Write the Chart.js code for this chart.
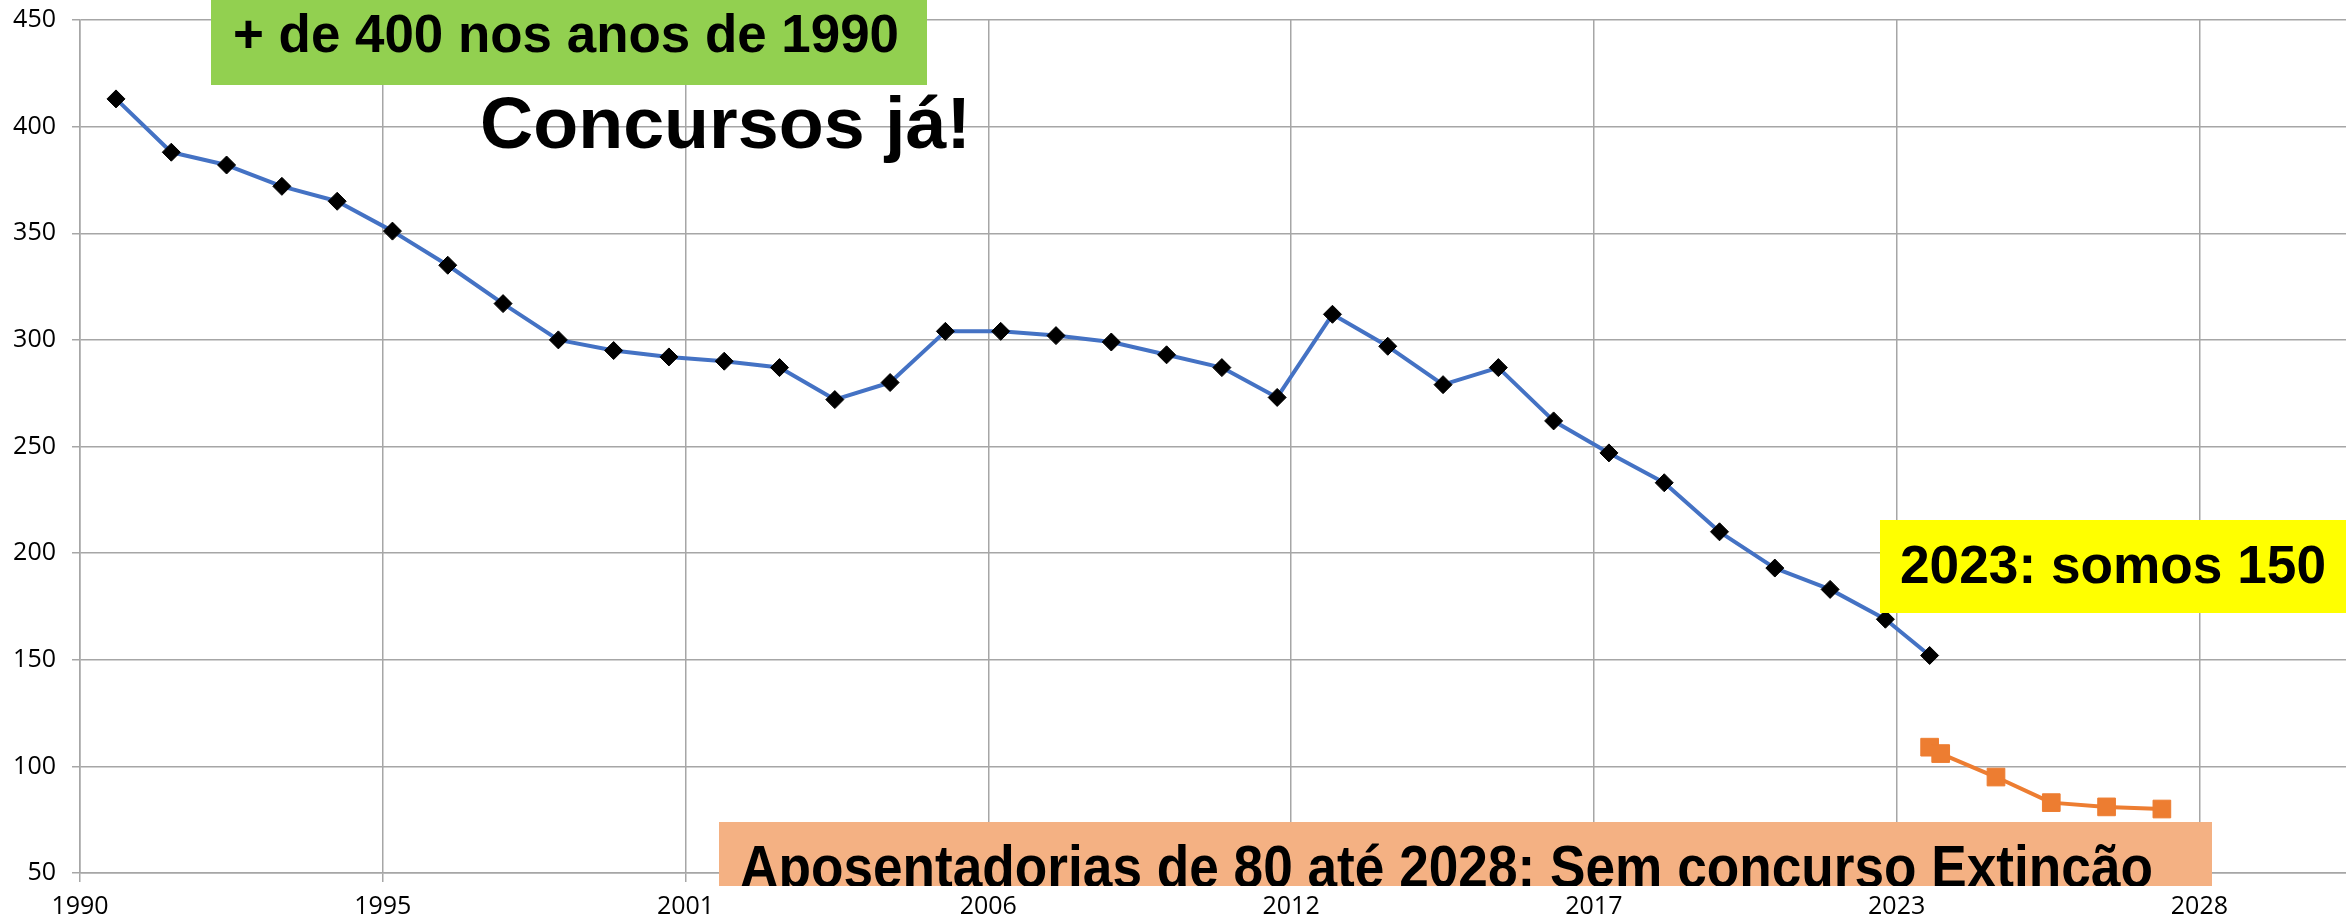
<!DOCTYPE html>
<html>
<head>
<meta charset="utf-8">
<script src="https://cdn.jsdelivr.net/npm/chart.js@4.4.1/dist/chart.umd.min.js"></script>
<style>
  html, body { margin: 0; padding: 0; background: #fff; overflow: hidden; }
  #wrap { width: 2346px; height: 921px; position: relative; }
  canvas { display: block; }
</style>
</head>
<body>
<div id="wrap"><canvas id="servidoresChart" width="2346" height="921"></canvas></div>
<script>
// Anos (eixo de datas: 1 jan de cada ano, último ponto em out/2023)
const anosHistorico = [1991, 1992, 1993, 1994, 1995, 1996, 1997, 1998, 1999, 2000,
    2001, 2002, 2003, 2004, 2005, 2006, 2007, 2008, 2009, 2010,
    2011, 2012, 2013, 2014, 2015, 2016, 2017, 2018, 2019, 2020,
    2021, 2022, 2023, 2023.8];
const servidores = [413, 388, 382, 372, 365, 351, 335, 317, 300, 295,
    292, 290, 287, 272, 280, 304, 304, 302, 299, 293,
    287, 273, 312, 297, 279, 287, 262, 247, 233, 210,
    193, 183, 169, 152];

// Projeção com as aposentadorias
const anosProjecao = [2023.8, 2024, 2025, 2026, 2027, 2028];
const projecao = [109, 106, 95, 83, 81, 80];

// Eixos
const xTickLabels = ['1990', '1995', '2001', '2006', '2012', '2017', '2023', '2028'];
const xMin = 1990.349;
const xMax = 2031.33;
const xStep = 2000 / 365.25; // unidade principal de 2000 dias
const yMin = 50;
const yMax = 450;
const yStep = 50;

const gridColor = '#A6A6A6';
const tickFont = { family: '"Open Sans", "Liberation Sans", sans-serif', size: 25 };

// Caixas de texto por cima do gráfico
const caixas = [
    { x: 211, y: 0, w: 716, h: 85, fill: '#92D050', text: '+ de 400 nos anos de 1990', size: 54, tx: 233, ty: 52, tw: 666 },
    { text: 'Concursos já!', size: 72, tx: 480, ty: 148, tw: 491 },
    { x: 1880, y: 520, w: 466, h: 93, fill: '#FFFF00', text: '2023: somos 150', size: 53, tx: 1900, ty: 583, tw: 426 },
    { x: 719, y: 822, w: 1493, h: 64, fill: '#F4B183', text: 'Aposentadorias de 80 até 2028: Sem concurso Extincão', size: 59, tx: 740, ty: 887, tw: 1413 }
];

const caixasPlugin = {
    id: 'caixas',
    afterDraw(chart) {
        const ctx = chart.ctx;
        caixas.forEach(c => {
            ctx.save();
            if (c.fill) {
                ctx.fillStyle = c.fill;
                ctx.fillRect(c.x, c.y, c.w, c.h);
                ctx.beginPath();
                ctx.rect(c.x, c.y, c.w, c.h);
                ctx.clip();
            }
            ctx.font = 'bold ' + c.size + 'px "Liberation Sans", Arial, sans-serif';
            ctx.fillStyle = '#000';
            ctx.textBaseline = 'alphabetic';
            const w = ctx.measureText(c.text).width;
            ctx.translate(c.tx, c.ty);
            ctx.scale(c.tw / w, 1);
            ctx.fillText(c.text, 0, 0);
            ctx.restore();
        });
    }
};

// sem folga extra dos rótulos: a área do gráfico vai até a borda
function semFolga(scale) {
    scale.paddingTop = 0;
    scale.paddingBottom = 0;
    scale.paddingLeft = 0;
    scale.paddingRight = 0;
}

const ctx = document.getElementById('servidoresChart').getContext('2d');
new Chart(ctx, {
    type: 'line',
    data: {
        datasets: [{
            label: 'Servidores',
            data: anosHistorico.map((a, i) => ({ x: a, y: servidores[i] })),
            borderColor: '#4472C4',
            borderWidth: 4,
            borderJoinStyle: 'round',
            borderCapStyle: 'round',
            pointStyle: 'rectRot',
            pointRadius: 9,
            pointBackgroundColor: '#000',
            pointBorderColor: '#000',
            pointBorderWidth: 1,
            tension: 0
        }, {
            label: 'Projeção',
            data: anosProjecao.map((a, i) => ({ x: a, y: projecao[i] })),
            borderColor: '#ED7D31',
            borderWidth: 4,
            borderJoinStyle: 'round',
            borderCapStyle: 'round',
            pointStyle: 'rect',
            pointRadius: 12.5,
            pointBackgroundColor: '#ED7D31',
            pointBorderColor: '#ED7D31',
            pointBorderWidth: 1,
            tension: 0
        }]
    },
    options: {
        responsive: false,
        animation: false,
        layout: { autoPadding: false, padding: { top: 20, left: 0, right: 0, bottom: 0 } },
        plugins: {
            legend: { display: false },
            tooltip: { enabled: false }
        },
        scales: {
            x: {
                type: 'linear',
                min: xMin,
                max: xMax,
                afterBuildTicks: (scale) => {
                    scale.ticks = xTickLabels.map((_, i) => ({ value: xMin + i * xStep }));
                },
                afterFit: (scale) => { scale.height = 48; semFolga(scale); },
                ticks: {
                    autoSkip: false,
                    maxRotation: 0,
                    padding: 10,
                    color: '#000',
                    font: tickFont,
                    callback: (value, index) => xTickLabels[index]
                },
                grid: { color: gridColor, lineWidth: 1.5, tickLength: 9 },
                border: { color: gridColor, width: 1.5 }
            },
            y: {
                min: yMin,
                max: yMax,
                afterFit: (scale) => { scale.width = 80; semFolga(scale); },
                ticks: {
                    stepSize: yStep,
                    padding: 16,
                    color: '#000',
                    font: tickFont
                },
                grid: { color: gridColor, lineWidth: 1.5, tickLength: 8 },
                border: { color: gridColor, width: 1.5 }
            }
        }
    },
    plugins: [caixasPlugin]
});
</script>
</body>
</html>
